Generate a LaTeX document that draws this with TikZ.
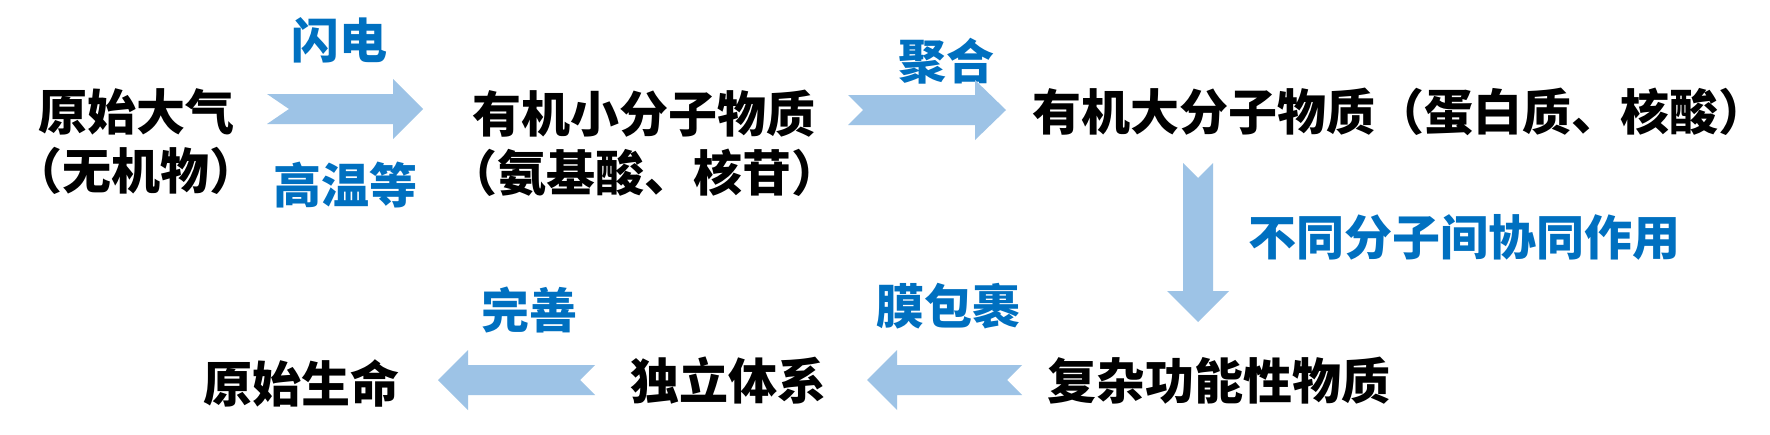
\documentclass[tikz,border=0pt]{standalone}
\usepackage{fontspec}
\setmainfont{Noto Sans CJK SC}
\definecolor{arrowblue}{HTML}{9DC3E6}
\definecolor{labelblue}{HTML}{0070C0}
\begin{document}
\begin{tikzpicture}[x=0.5pt,y=-0.5pt,
  txt/.style={inner sep=0pt,font=\fontsize{24.5}{29.5}\selectfont\bfseries,align=center,text=black},
  lbl/.style={inner sep=0pt,font=\fontsize{24}{29}\selectfont\bfseries,text=labelblue},
  blockarrow/.style={fill=arrowblue,draw=none}]
\path[use as bounding box,fill=white] (0,0) rectangle (1770,434);
% main nodes
\node[txt] (atm) at (136,142) {原始大气\\（无机物）};
\node[txt] (small) at (644,143) {有机小分子物质\\（氨基酸、核苷）};
\node[txt] (macro) at (1400,112) {有机大分子物质（蛋白质、核酸）};
\node[txt] (func) at (1219,381) {复杂功能性物质};
\node[txt] (indep) at (728,381) {独立体系};
\node[txt] (life) at (301,383) {原始生命};
% labels
\node[lbl] (l1) at (339,40) {闪电};
\node[lbl] (l2) at (345,185) {高温等};
\node[lbl] (l3) at (946,61) {聚合};
\node[lbl] (l4) at (1464,237) {不同分子间协同作用};
\node[lbl] (l5) at (948,306) {膜包裹};
\node[lbl] (l6) at (529,310) {完善};
% block arrows
\fill[blockarrow] (267,94) -- (393,94) -- (393,79) -- (423,109) -- (393,139) -- (393,124) -- (267,124) -- (289,109) -- cycle;
\fill[blockarrow] (848,95) -- (975,95) -- (975,80) -- (1006,110) -- (975,140) -- (975,125) -- (848,125) -- (863,110) -- cycle;
\fill[blockarrow] (1183,163) -- (1183,291) -- (1167,291) -- (1198,322) -- (1229,291) -- (1213,291) -- (1213,163) -- (1198,178) -- cycle;
\fill[blockarrow] (1022,365) -- (897,365) -- (897,350) -- (867,380) -- (897,410) -- (897,395) -- (1022,395) -- (1007,380) -- cycle;
\fill[blockarrow] (595,365) -- (468,365) -- (468,350) -- (438,380) -- (468,410) -- (468,395) -- (595,395) -- (580,380) -- cycle;
\end{tikzpicture}
\end{document}
